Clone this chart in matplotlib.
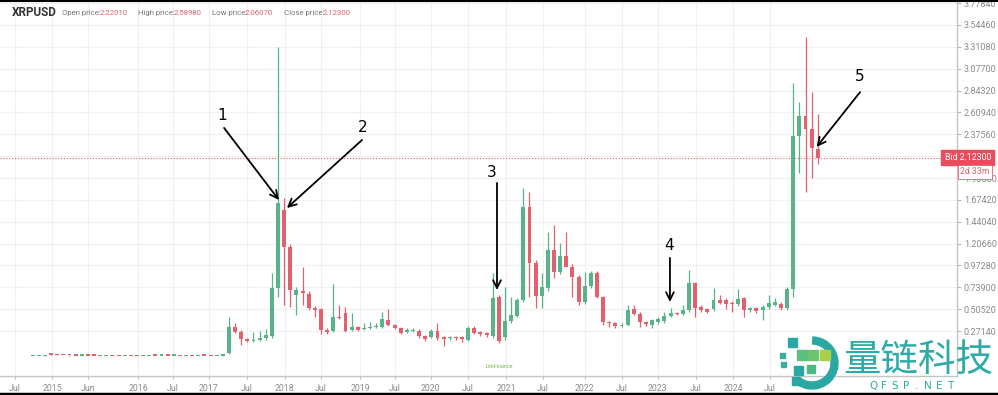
import numpy as np
import matplotlib
matplotlib.use("Agg")
import matplotlib.pyplot as plt
from matplotlib.patches import Wedge, Rectangle
from matplotlib.lines import Line2D

plt.rcParams['font.family'] = ['Roboto', 'Noto Sans CJK SC', 'DejaVu Sans']

GREEN = "#58b488"
RED = "#e5606d"

# monthly candles XRPUSD, left to right (index 1 = first candle)
opens = [
    .0050, .0052, .0060, .0240, .0200, .0160, .0120, .0100, .0085, .0090,
    .0080, .0070, .0062, .0068, .0060, .0055, .0060, .0058, .0054, .0058,
    .0070, .0064, .0070, .0065, .0066, .0060, .0068, .0062, .0072, .0066,
    .0062, .0068, .036, .318, .264, .186, .165, .175, .197, .218,
    .732, 1.566, 1.171, .657, .700, .667, .518, .507, .282, .272,
    .421, .464, .282, .314, .293, .304, .314, .314, .389, .336,
    .304, .261, .272, .272, .218, .208, .272, .208, .197, .208,
    .208, .175, .304, .261, .250, .218, .635, .208, .379, .432,
    .603, 1.598, .999, .646, .732, 1.138, .903, 1.074, .956, .849,
    .582, .753, .892, .635, .368, .357, .325, .336, .507, .454,
    .368, .336, .368, .379, .432, .464, .454, .496, .785, .528,
    .507, .507, .603, .603, .571, .560, .625, .496, .518, .496,
    .528, .550, .560, .517, .720, 2.357, 2.571, 2.432, 2.2201,
]
highs = [
    .0056, .0060, .0200, .0270, .0210, .0170, .0130, .0110, .0100, .0095,
    .0085, .0078, .0075, .0072, .0065, .0068, .0064, .0060, .0062, .0086,
    .0074, .0080, .0072, .0070, .0068, .0074, .0070, .0082, .0075, .0070,
    .0072, .0300, .420, .357, .282, .200, .260, .270, .293, .892,
    3.310, 1.694, 1.200, .740, .956, .700, .540, .520, .300, .774,
    .550, .528, .464, .330, .357, .368, .360, .475, .507, .350,
    .310, .300, .300, .290, .230, .290, .357, .220, .220, .220,
    .220, .320, .320, .270, .260, .892, .660, .742, .635, .620,
    1.800, 1.757, 1.030, .892, 1.330, 1.406, 1.213, 1.330, .990, .870,
    .903, .910, .910, .650, .380, .370, .360, .550, .550, .470,
    .380, .400, .420, .475, .518, .480, .550, .924, .800, .550,
    .520, .731, .657, .620, .590, .720, .640, .530, .530, .550,
    .657, .625, .580, .740, 2.925, 2.720, 3.417, 2.832, 2.5898,
]
lows = [
    .0048, .0050, .0058, .0180, .0140, .0100, .0090, .0080, .0080, .0075,
    .0065, .0058, .0060, .0055, .0050, .0052, .0055, .0052, .0052, .0055,
    .0062, .0062, .0062, .0060, .0058, .0058, .0060, .0060, .0062, .0060,
    .0060, .0065, .030, .250, .122, .150, .150, .160, .180, .200,
    .635, .550, .528, .443, .550, .500, .421, .240, .240, .260,
    .400, .260, .270, .270, .280, .290, .300, .300, .320, .290,
    .240, .250, .260, .200, .170, .200, .180, .111, .180, .180,
    .154, .160, .240, .220, .210, .200, .143, .180, .360, .420,
    .580, .635, .518, .518, .700, .839, .880, 1.000, .635, .550,
    .560, .730, .620, .336, .310, .300, .310, .320, .440, .315,
    .330, .304, .350, .360, .420, .440, .440, .480, .421, .470,
    .460, .490, .560, .507, .475, .540, .421, .470, .460, .389,
    .510, .540, .500, .500, .635, 1.962, 1.759, 1.909, 2.0607,
]
closes = [
    .0052, .0058, .0180, .0200, .0160, .0120, .0100, .0085, .0090, .0080,
    .0070, .0062, .0068, .0060, .0055, .0060, .0058, .0054, .0058, .0070,
    .0064, .0070, .0065, .0066, .0060, .0068, .0062, .0072, .0066, .0062,
    .0068, .0250, .314, .264, .186, .165, .175, .197, .229, .732,
    1.641, 1.171, .710, .710, .678, .518, .496, .282, .261, .421,
    .410, .272, .314, .282, .304, .314, .325, .400, .336, .304,
    .250, .282, .282, .218, .186, .272, .197, .186, .208, .197,
    .186, .304, .250, .240, .229, .625, .165, .379, .443, .603,
    1.598, .999, .646, .742, 1.138, .903, 1.074, .956, .849, .582,
    .753, .892, .635, .368, .357, .325, .336, .496, .454, .368,
    .347, .389, .400, .432, .464, .454, .496, .785, .518, .496,
    .475, .603, .571, .560, .560, .614, .496, .518, .486, .528,
    .571, .580, .517, .720, 2.357, 2.571, 2.432, 2.229, 2.123,
]

tick_pos = [-1.9, 4.15, 10.0, 18.2, 23.9, 29.7, 35.9, 42.1, 48.0, 54.4, 60.1,
            65.9, 72.0, 78.2, 84.2, 91.0, 97.0, 102.9, 109.1, 115.2, 121.2]
tick_labels = ["Jul", "2015", "Jun", "2016", "Jul", "2017", "Jul", "2018", "Jul",
               "2019", "Jul", "2020", "Jul", "2021", "Jul", "2022", "Jul", "2023",
               "Jul", "2024", "Jul"]
price_ticks = [0.27140, 0.50520, 0.73900, 0.97280, 1.20660, 1.44040, 1.67420,
               1.90800, 2.14180, 2.37560, 2.60940, 2.84320, 3.07700, 3.31080,
               3.54460, 3.77840]

bid = 2.12300

# numbered arrows: label, text pos, arrow tail, arrow head
notes = [
    ("1", (31.9, 2.58), (32.2, 2.444), (41.15, 1.673)),
    ("2", (54.8, 2.45), (54.7, 2.315), (42.45, 1.587)),
    ("3", (75.9, 1.97), (76.7, 1.855), (76.7, 0.71)),
    ("4", (104.7, 1.19), (104.9, 1.053), (104.9, 0.582)),
    ("5", (135.9, 2.99), (135.9, 2.827), (128.8, 2.24)),
]

fig = plt.figure(figsize=(9.98, 3.95), dpi=100)
ax = fig.add_axes([0, 19 / 395, 957 / 998, 376 / 395])

idx = np.arange(1, len(opens) + 1)
o = np.array(opens)
c = np.array(closes)
colors = np.where(c >= o, GREEN, RED)
ax.vlines(idx, lows, highs, colors=colors, lw=0.9, zorder=2)
ax.bar(idx, np.maximum(np.abs(c - o), 0.014), bottom=np.minimum(o, c),
       width=0.64, color=colors, linewidth=0, zorder=3)

ax.axhline(bid, color=RED, ls=(0, (1, 1.6)), lw=0.8, zorder=1)

ax.set_xlim(-4.33, 151.7)
ax.set_ylim(-0.2097, 3.812)
ax.yaxis.tick_right()
ax.set_yticks(price_ticks)
# the 2.14180 label sits under the bid box in the original
ax.set_yticklabels(["" if abs(v - 2.1418) < 1e-6 else f"{v:.5f}" for v in price_ticks])
ax.set_xticks(tick_pos)
ax.set_xticklabels(tick_labels)
ax.tick_params(axis='y', length=3, width=0.8, color='#bbbbbb', labelsize=6.5,
               labelcolor='#8a8a8a', pad=2)
ax.tick_params(axis='x', length=2.5, width=0.8, color='#bbbbbb', labelsize=6.3,
               labelcolor='#8a8a8a', pad=3)
for s in ['left', 'top']:
    ax.spines[s].set_visible(False)
for s in ['right', 'bottom']:
    ax.spines[s].set_color('#c4c4c4')
    ax.spines[s].set_linewidth(1)
ax.grid(color='#f0f0f0', lw=0.8)
ax.set_axisbelow(True)

for lab, tpos, tail, head in notes:
    ax.text(tpos[0], tpos[1], lab, fontsize=11, color='black', ha='center',
            va='center', family=['DejaVu Sans'])
    ax.annotate("", xy=head, xytext=tail,
                arrowprops=dict(arrowstyle='->', color='black', lw=1.3,
                                mutation_scale=14, shrinkA=0, shrinkB=0))

# bid label on the price axis
ytr = ax.get_yaxis_transform()
ax.text(0.987, bid, "Bid 2.12300", transform=ytr, fontsize=6.3, color='white',
        ha='left', va='center', zorder=6,
        bbox=dict(boxstyle='square,pad=0.35', fc='#e84d5d', ec='#e84d5d'))
ax.text(1.003, bid - 0.15, "2d 33m", transform=ytr, fontsize=6.3, color=RED,
        ha='left', va='center', zorder=6,
        bbox=dict(boxstyle='square,pad=0.25', fc='white', ec=RED, lw=0.6))

# header
fig.text(12 / 998, 1 - 13 / 395, "XRPUSD", fontsize=8.5, fontweight='bold',
         color='#333333', va='center')
header = [("Open price:", 62, 100, "2.22010"), ("High price:", 138, 174, "2.58980"),
          ("Low price:", 212, 245, "2.06070"), ("Close price:", 284, 323, "2.12300")]
for name, x1, x2, val in header:
    fig.text(x1 / 998, 1 - 13 / 395, name, fontsize=5.6, color='#777777', va='center')
    fig.text(x2 / 998, 1 - 13 / 395, val, fontsize=5.6, color=RED, va='center')

# small broker logo
fig.text(486 / 998, 1 - 367 / 395, "LiteFinance", fontsize=4, color='#7ab648',
         style='italic', va='center')

# watermark
fig.text(843 / 998, 1 - 360 / 395, "量链科技", fontsize=27, color='#2eaba6',
         va='center', ha='left', family=['Noto Sans CJK SC'])
for k, ch in enumerate("QFSP.NET"):
    fig.text((873 + 11 * k) / 998, 1 - 386 / 395, ch, fontsize=7.5,
             color='#2eaba6', va='center', ha='center', family=['DejaVu Sans'])
lax = fig.add_axes([770 / 998, 0, 70 / 998, 70 / 395])
lax.set_xlim(770, 840)
lax.set_ylim(0, 70)
lax.axis('off')
lax.add_patch(Wedge((812, 32), 26, -125, 88, width=7, color='#2aa6a3'))
squares = [(788, 48, 9, '#2aa6a3'), (797, 35, 10, '#5bbf7d'), (808, 35, 10, '#6cc46f'),
           (820, 35, 10, '#a9cf45'), (794, 20, 9, '#2aa6a3'), (807, 22, 8, '#4fb784'),
           (792, 10, 8, '#2aa6a3'), (780, 37, 5, '#3aae98'), (781, 28, 5, '#3aae98')]
for sx, sy, sz, col in squares:
    lax.add_patch(Rectangle((sx, sy), sz, sz, color=col))

# screenshot borders
fig.add_artist(Line2D([0, 1], [1 - 0.5 / 395, 1 - 0.5 / 395], color='black', lw=1.5))
fig.add_artist(Line2D([0, 1], [1.5 / 395, 1.5 / 395], color='black', lw=2.5))

fig.savefig("out.png", dpi=100)
